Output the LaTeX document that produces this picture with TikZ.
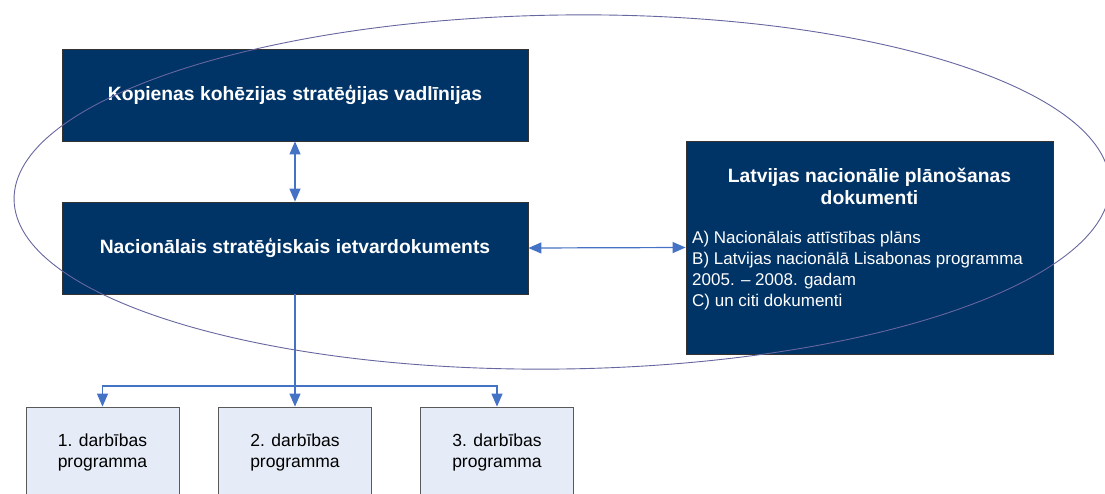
\documentclass[tikz,border=0pt]{standalone}
\usepackage{fontspec}
\setmainfont{Liberation Sans}
\usetikzlibrary{arrows.meta}
\definecolor{darkbox}{RGB}{0,51,102}
\definecolor{lightbox}{RGB}{230,236,247}
\definecolor{conn}{RGB}{68,114,196}
\definecolor{ellc}{RGB}{102,102,160}
\tikzset{
  darkrect/.style={draw=black!80, line width=0.8pt, fill=darkbox, text=white, inner sep=0pt},
  lightrect/.style={draw=black!65, line width=0.8pt, fill=lightbox, inner sep=0pt, align=center,
     font=\fontsize{17.5}{21}\selectfont},
  bigtitle/.style={font=\bfseries\fontsize{19.3}{22}\selectfont, text=white, align=center},
  conline/.style={draw=conn, line width=1.2pt},
  tip/.style={-{Triangle[length=13pt,width=11pt]}},
  dtip/.style={{Triangle[length=13pt,width=11pt]}-{Triangle[length=13pt,width=11pt]}},
}
\begin{document}
\begin{tikzpicture}[x=1pt,y=-1pt]
\useasboundingbox (0,0) rectangle (1105,493);
\begin{scope}
\clip (0,0) rectangle (1105,493);
\node[darkrect, minimum width=466pt, minimum height=92pt] (top) at (295,95) {};
\node[bigtitle] (toptxt) at (295,95) {Kopienas kohēzijas stratēģijas vadlīnijas};
\node[darkrect, minimum width=466pt, minimum height=92pt] (mid) at (295,248) {};
\node[bigtitle] (midtxt) at (295,248) {Nacionālais stratēģiskais ietvardokuments};
\node[darkrect, minimum width=367pt, minimum height=213pt] (rb) at (869.5,247.5) {};
\node[bigtitle] (rbtitle) at (869.5,186) {Latvijas nacionālie plānošanas\\dokumenti};
\node[text=white, align=left, anchor=west, inner sep=0pt, font=\fontsize{17}{21}\selectfont] (rblist) at (692,271)
  {A) Nacionālais attīstības plāns\\B) Latvijas nacionālā Lisabonas programma\\2005. – 2008. gadam\\C) un citi dokumenti};
\node[lightrect, minimum width=153pt, minimum height=90pt] (p1) at (102.5,452) {1. darbības\\programma};
\node[lightrect, minimum width=153pt, minimum height=90pt] (p2) at (295,452) {2. darbības\\programma};
\node[lightrect, minimum width=153pt, minimum height=90pt] (p3) at (497,452) {3. darbības\\programma};
\coordinate (jn) at (295,386);
\draw[conline, dtip] (top.south) -- (mid.north);
\draw[conline, dtip] (mid.east) -- (rb.west);
\draw[conline, tip] (mid.south) -- (p2.north);
\draw[conline, tip] (jn) -| (p1.north);
\draw[conline, tip] (jn) -| (p3.north);
\draw[ellc, line width=0.9pt, rotate around={0.8:(562,192)}] (562,192) ellipse [x radius=548, y radius=177];
\end{scope}
\end{tikzpicture}
\end{document}
